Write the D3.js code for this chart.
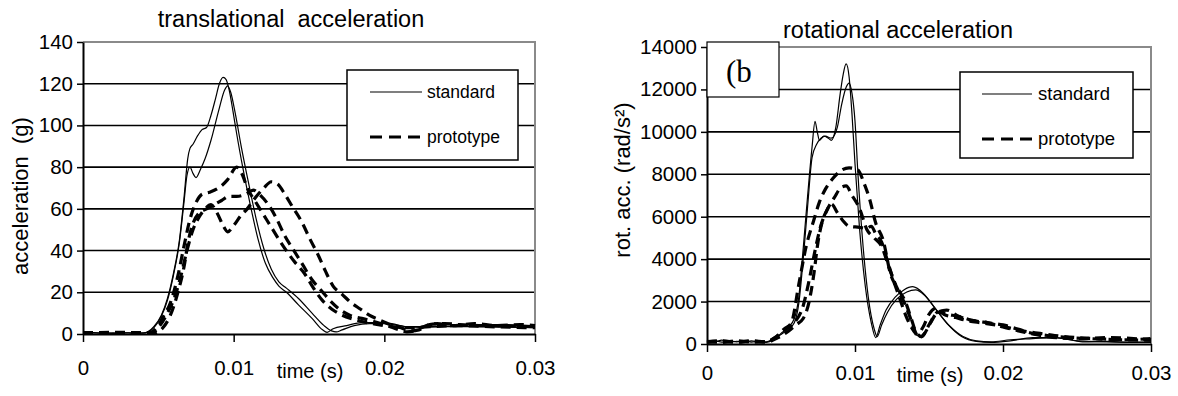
<!DOCTYPE html>
<html>
<head>
<meta charset="utf-8">
<script src="https://cdn.jsdelivr.net/npm/d3@7"></script>
<style>
  body { margin: 0; background: #fff; }
  svg text { font-family: "Liberation Sans", Arial, sans-serif; fill: #000; }
</style>
</head>
<body>
<script>
// time in ms
const timeTicks = [0, 10, 20, 30];
const timeTickLabels = ["0", "0.01", "0.02", "0.03"];
const transTicks = [0, 20, 40, 60, 80, 100, 120, 140];
const rotTicks = [0, 2000, 4000, 6000, 8000, 10000, 12000, 14000];

// translational acceleration (g)
const transStdA = [[0,1],[0.5,0.8],[1,0.4],[1.5,0.6],[2,0.3],[2.5,0.6],[3,0.5],[3.5,0.4],[4,0.5],[4.3,1],[4.7,3.5],[5.2,9],[5.6,17],[6,29],[6.4,45],[6.7,65],[6.95,84],[7.1,89],[7.3,91],[7.6,95],[7.9,98],[8.2,99],[8.5,105],[8.8,113],[9.05,120],[9.3,123],[9.5,122],[9.7,117],[9.95,107],[10.2,96],[10.6,80],[11.1,62],[11.6,46],[12.1,34],[12.6,27],[13.0,23],[13.5,20],[14.3,14],[15.2,7.5],[15.9,2],[16.2,0.8],[16.6,2.5],[17.5,4],[18.5,5.5],[19.5,5.5],[20.5,5],[21.5,3.5],[22.5,3.5],[24,3.8],[26,3.6],[28,3.3],[30,3]];
const transStdB = [[0,0.8],[0.5,0.5],[1,0.6],[1.5,0.3],[2,0.5],[2.5,0.4],[3,0.6],[3.5,0.5],[4,0.4],[4.3,0.9],[4.7,3],[5.2,8.5],[5.6,16],[6,28],[6.4,44],[6.7,63],[6.9,76],[7.1,80],[7.3,77],[7.5,75],[7.8,79],[8.1,84],[8.5,93],[9.0,107],[9.4,117],[9.6,119],[9.8,116],[10.1,106],[10.5,90],[11.0,72],[11.5,55],[12.0,41],[12.5,31],[13.0,25],[13.5,22],[14.3,17],[15.2,10],[16.0,4],[16.5,1.5],[16.8,1],[17.2,2],[18,4],[19,5],[20,5],[21,4],[22,3],[24,3.5],[27,3.5],[30,3.2]];
const transProtoA = [[0,0.5],[2,0.5],[4.4,0.6],[4.9,3],[5.3,8],[5.8,15],[6.3,28],[6.7,42],[7.1,55],[7.5,63],[7.9,67],[8.4,68],[9.0,70],[9.6,74],[10.2,80],[10.6,76],[10.9,70],[11.4,64],[12.0,57],[12.6,50],[13.3,42],[14.0,35],[14.7,29],[15.3,22],[15.9,16],[16.5,12],[17.2,9],[18.0,7],[18.8,5.5],[19.6,4.5],[20.5,3.5],[21.5,3],[23,3.5],[25,4],[27,3.5],[30,3]];
const transProtoB = [[0,0.5],[2,0.8],[4.6,0.5],[5.1,4],[5.6,10],[6.1,18],[6.5,28],[6.9,40],[7.3,50],[7.7,56],[8.1,60],[8.5,62],[8.9,58],[9.3,52],[9.6,49],[10.0,52],[10.5,57],[10.9,60],[11.4,65],[12.0,70],[12.5,73],[12.9,72],[13.4,67],[13.9,61],[14.5,54],[15.1,45],[15.6,38],[16.1,30],[16.6,23],[17.2,19],[17.8,15],[18.4,12],[19.0,9],[19.6,7],[20.4,4.5],[21.1,3],[21.7,1.5],[22.3,2],[23.0,4.5],[24,5],[25,4.5],[26.5,4],[28,4],[30,3.5]];
const transProtoC = [[0,0.5],[2.5,0.6],[4.8,0.5],[5.3,3],[5.8,9],[6.3,20],[6.7,32],[7.0,45],[7.3,53],[7.7,58],[8.2,60],[8.7,62],[9.2,64],[9.7,66],[10.2,66],[10.8,67],[11.3,69],[11.7,67],[12.2,63],[12.8,56],[13.4,47],[14.0,40],[14.6,33],[15.2,26],[15.8,21],[16.4,16],[17.0,12],[17.7,9],[18.5,7.5],[19.3,6],[20.2,4],[21.0,2],[21.5,1],[22.0,1.5],[22.6,3.5],[23.5,5],[24.5,4],[26,5],[27.5,4],[29,4.5],[30,4]];

// rotational acceleration (rad/s²)
const rotStdA = [[0,150],[0.5,100],[1,180],[1.5,80],[2,130],[2.5,90],[3,150],[3.5,100],[4,80],[4.5,200],[5.0,500],[5.5,800],[5.9,1200],[6.2,2200],[6.5,4500],[6.8,7000],[7.1,9300],[7.3,10500],[7.45,10000],[7.6,9600],[7.9,9800],[8.2,9700],[8.4,9600],[8.7,10200],[9.0,11800],[9.2,12700],[9.4,13200],[9.6,12600],[9.8,10800],[10.0,8500],[10.3,5500],[10.7,2700],[11.1,1000],[11.4,300],[11.7,900],[12.1,1600],[12.7,2200],[13.3,2550],[13.9,2700],[14.6,2400],[15.4,1700],[16.3,900],[17.2,350],[18.2,120],[19.2,80],[20.5,150],[22,300],[23.5,300],[24.5,200],[25.5,100],[27,120],[28.5,80],[30,100]];
const rotStdB = [[0,100],[0.5,150],[1,90],[1.5,140],[2,100],[2.5,160],[3,90],[3.5,120],[4,100],[4.5,250],[5.0,450],[5.5,700],[5.9,1000],[6.2,1900],[6.5,4000],[6.8,6500],[7.1,8800],[7.4,9400],[7.7,9700],[8.0,9800],[8.4,9700],[8.8,10200],[9.1,11300],[9.4,12100],[9.6,12300],[9.8,11800],[10.0,10500],[10.2,8000],[10.5,5000],[10.9,2200],[11.3,700],[11.5,350],[11.8,900],[12.2,1500],[12.8,2100],[13.5,2450],[14.1,2550],[14.7,2300],[15.5,1600],[16.4,850],[17.3,350],[18.2,150],[19.2,100],[20.5,200],[22,250],[23.5,300],[25,150],[27,100],[30,80]];
const rotProtoA = [[0,100],[1,150],[2,80],[3,150],[4,100],[4.6,300],[5.2,700],[5.7,1000],[6.2,2800],[6.7,4600],[7.2,5800],[7.6,6700],[8.0,7300],[8.5,7800],[9.0,8150],[9.6,8300],[10.2,8200],[10.6,7600],[11.0,6800],[11.4,5700],[11.9,4900],[12.4,3300],[12.9,2600],[13.4,2000],[13.8,1200],[14.1,600],[14.5,350],[15.0,900],[15.6,1500],[16.2,1400],[17,1300],[18,1100],[19,1000],[20,900],[21,700],[22,500],[23,400],[24.5,300],[26,250],[28,200],[30,250]];
const rotProtoB = [[0,120],[1,80],[2,150],[3,90],[4,120],[4.7,350],[5.3,700],[5.9,1000],[6.5,1800],[6.9,3000],[7.3,4400],[7.7,5600],[8.1,6300],[8.6,6900],[9.1,7400],[9.4,7450],[9.8,7000],[10.3,6400],[10.8,5400],[11.3,5000],[11.8,4600],[12.3,3600],[12.8,2700],[13.3,2000],[13.7,1300],[14.0,700],[14.3,300],[14.7,500],[15.1,1000],[15.6,1500],[16.2,1600],[17,1300],[18,1100],[19,1000],[20,800],[21.5,550],[23,350],[25,250],[27,300],[30,200]];
const rotProtoC = [[0,80],[1,120],[2,100],[3,130],[4,90],[4.8,300],[5.5,600],[6.0,900],[6.5,1200],[6.9,2000],[7.2,3200],[7.5,4800],[7.8,5800],[8.1,6300],[8.4,6600],[8.8,6200],[9.2,5800],[9.6,5550],[10.3,5500],[10.8,5450],[11.1,5550],[11.4,5200],[11.8,4800],[12.2,3900],[12.6,3000],[13.0,2200],[13.4,1400],[13.8,800],[14.2,450],[14.6,800],[15.0,1400],[15.5,1700],[16.0,1400],[16.8,1250],[17.6,1100],[18.5,1000],[19.5,900],[20.5,750],[21.5,600],[22.5,500],[23.5,400],[25,300],[26.5,250],[28,200],[30,180]];

const svg = d3.select("body").append("svg")
  .attr("width", 1178)
  .attr("height", 396);

function drawChart(cfg) {
  const g = svg.append("g");
  const x = d3.scaleLinear().domain([0, 30]).range([cfg.left, cfg.right]);
  const y = d3.scaleLinear().domain([0, cfg.yMax]).range([cfg.bottom, cfg.top]);

  // grid lines
  g.selectAll(".grid")
    .data(cfg.yTicks.filter(d => d > 0 && d < cfg.yMax))
    .enter().append("line")
    .attr("x1", cfg.left).attr("x2", cfg.right)
    .attr("y1", d => y(d)).attr("y2", d => y(d))
    .attr("stroke", "#000").attr("stroke-width", 1.6);

  // gray plot frame top / right
  g.append("path")
    .attr("d", `M${cfg.left},${cfg.top}H${cfg.right}V${cfg.bottom}`)
    .attr("fill", "none").attr("stroke", "#8a8a8a").attr("stroke-width", 2);

  const line = d3.line()
    .x(d => x(d[0]))
    .y(d => y(d[1]))
    .curve(d3.curveMonotoneX);

  cfg.proto.forEach(s => {
    g.append("path").datum(s)
      .attr("d", line)
      .attr("fill", "none").attr("stroke", "#000")
      .attr("stroke-width", 3.2)
      .attr("stroke-dasharray", "10,6");
  });
  cfg.std.forEach(s => {
    g.append("path").datum(s)
      .attr("d", line)
      .attr("fill", "none").attr("stroke", "#000")
      .attr("stroke-width", 1.2);
  });

  // axes
  const yAxis = d3.axisLeft(y).tickValues(cfg.yTicks).tickSize(6).tickSizeOuter(0).tickFormat(d3.format("d"));
  const xAxis = d3.axisBottom(x).tickValues(timeTicks).tickSize(8).tickSizeOuter(0)
    .tickFormat((d, i) => timeTickLabels[i]);

  const ya = g.append("g").attr("transform", `translate(${cfg.left},0)`).call(yAxis);
  ya.select(".domain").attr("stroke-width", 2);
  ya.selectAll(".tick line").attr("stroke-width", 1.5);
  ya.selectAll(".tick text").attr("font-size", 20.5).attr("x", -10);

  const xa = g.append("g").attr("transform", `translate(0,${cfg.bottom})`).call(xAxis);
  xa.select(".domain").attr("stroke-width", 2);
  xa.selectAll(".tick line").attr("stroke-width", 1.5);
  xa.selectAll(".tick text").attr("font-size", 20.5).attr("dy", null).attr("y", 0)
    .attr("transform", `translate(0,${cfg.xTickBase - cfg.bottom})`);

  svg.selectAll("text").attr("font-family", null);

  // titles and labels
  g.append("text")
    .attr("x", cfg.titleX).attr("y", cfg.titleY)
    .attr("text-anchor", "middle")
    .attr("font-size", 23.5)
    .style("white-space", "pre")
    .text(cfg.title);

  g.append("text")
    .attr("transform", `translate(${cfg.yLabelX},${cfg.yLabelY}) rotate(-90)`)
    .attr("text-anchor", "middle")
    .attr("font-size", 22)
    .style("white-space", "pre")
    .text(cfg.yLabel);

  g.append("text")
    .attr("x", cfg.timeX).attr("y", cfg.timeY)
    .attr("text-anchor", "middle")
    .attr("font-size", 20)
    .text("time (s)");

  // legend
  const L = cfg.legend;
  g.append("rect")
    .attr("x", L.x).attr("y", L.y).attr("width", L.w).attr("height", L.h)
    .attr("fill", "#fff").attr("stroke", "#000").attr("stroke-width", 1.5);
  g.append("line")
    .attr("x1", L.lx1).attr("x2", L.lx2).attr("y1", L.y1).attr("y2", L.y1)
    .attr("stroke", "#000").attr("stroke-width", 1.2);
  g.append("line")
    .attr("x1", L.lx1).attr("x2", L.lx2).attr("y1", L.y2).attr("y2", L.y2)
    .attr("stroke", "#000").attr("stroke-width", 3.2)
    .attr("stroke-dasharray", "12,7");
  g.append("text").attr("x", L.tx).attr("y", L.y1).attr("dy", "0.35em")
    .attr("font-size", L.fs).text("standard");
  g.append("text").attr("x", L.tx).attr("y", L.y2).attr("dy", "0.35em")
    .attr("font-size", L.fs).text("prototype");

  return g;
}

drawChart({
  left: 83, right: 535, top: 42, bottom: 334, yMax: 140,
  yTicks: transTicks,
  std: [transStdA, transStdB],
  proto: [transProtoA, transProtoB, transProtoC],
  xTickBase: 375,
  title: "translational  acceleration", titleX: 291, titleY: 27,
  yLabel: "acceleration  (g)", yLabelX: 28, yLabelY: 196,
  timeX: 310, timeY: 378,
  legend: { x: 347, y: 70, w: 171, h: 90, lx1: 370, lx2: 422, tx: 427, y1: 92, y2: 137, fs: 17.5 }
});

const rot = drawChart({
  left: 707, right: 1151, top: 47, bottom: 344, yMax: 14000,
  yTicks: rotTicks,
  std: [rotStdA, rotStdB],
  proto: [rotProtoA, rotProtoB, rotProtoC],
  xTickBase: 380,
  title: "rotational acceleration", titleX: 898, titleY: 38,
  yLabel: "rot. acc. (rad/s²)", yLabelX: 630, yLabelY: 180,
  timeX: 930, timeY: 382,
  legend: { x: 960, y: 72, w: 173, h: 86, lx1: 982, lx2: 1032, tx: 1038, y1: 94, y2: 139, fs: 18.5 }
});

// "(b" panel tag box over the top-left corner
rot.append("rect")
  .attr("x", 707).attr("y", 42).attr("width", 72).attr("height", 55)
  .attr("fill", "#fff").attr("stroke", "#000").attr("stroke-width", 1.2);
rot.append("text")
  .attr("x", 726).attr("y", 82)
  .attr("font-size", 31)
  .style("font-family", "'Liberation Serif', 'Times New Roman', serif")
  .text("(b");
</script>
</body>
</html>
